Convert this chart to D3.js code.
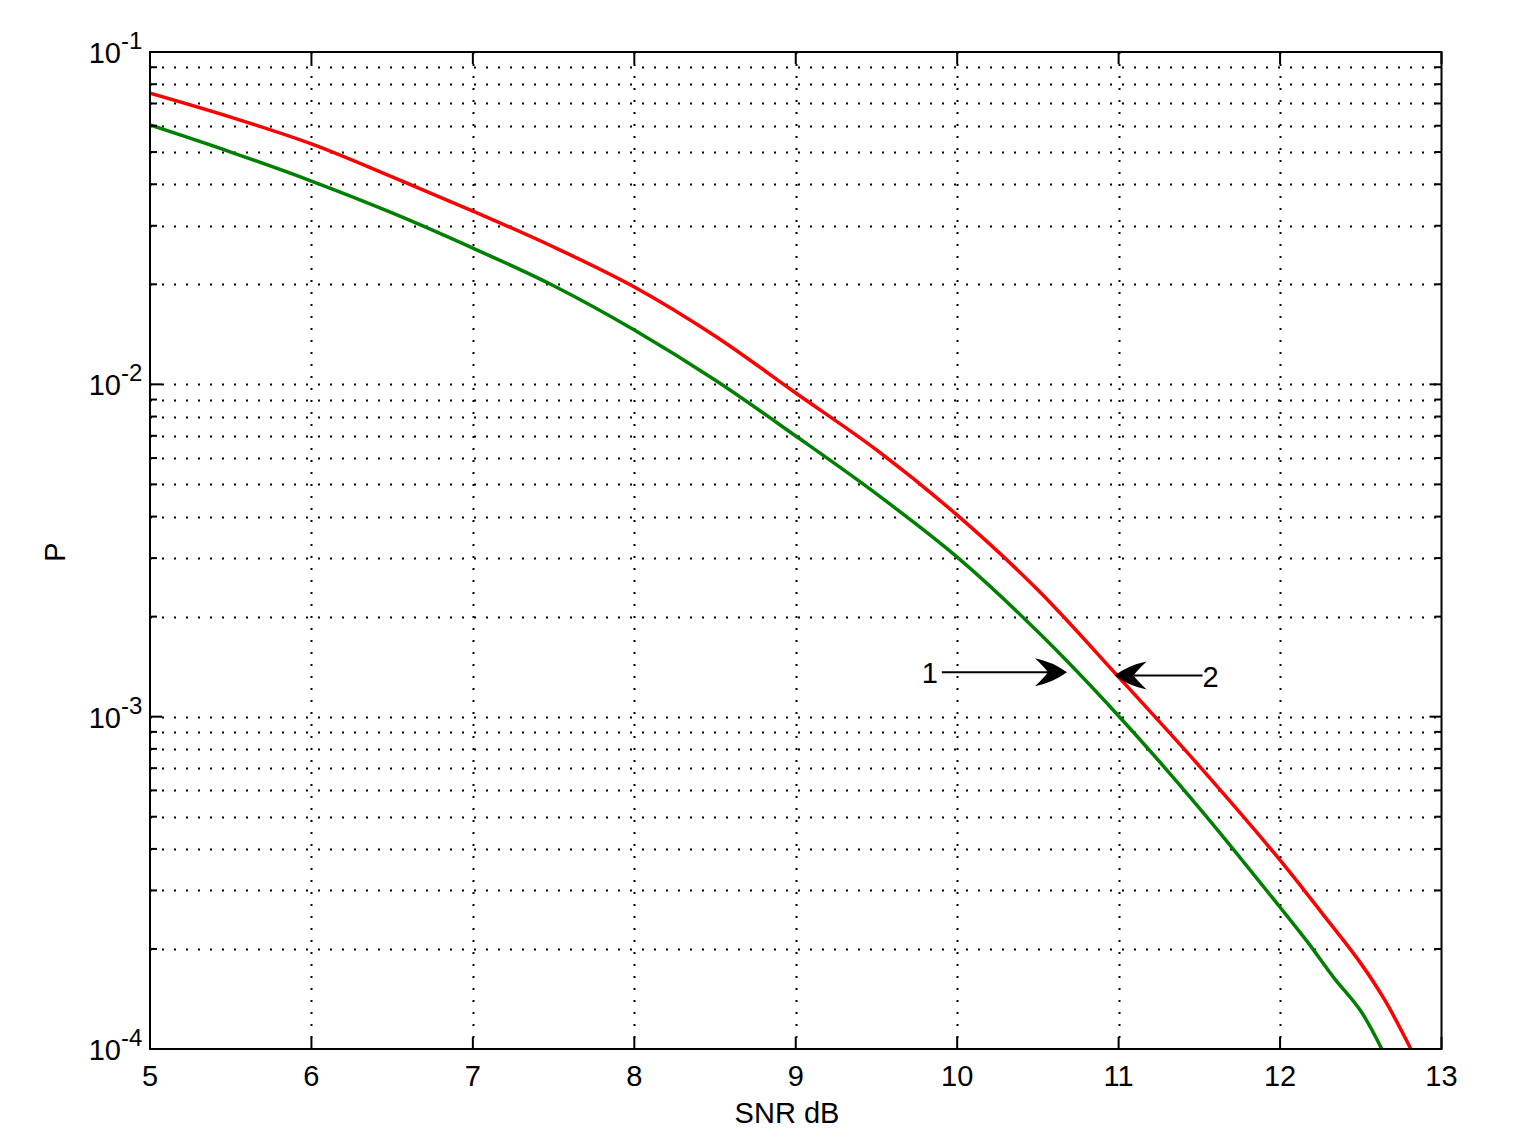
<!DOCTYPE html>
<html>
<head>
<meta charset="utf-8">
<script src="https://cdn.jsdelivr.net/npm/d3@7"></script>
<style>
  html, body { margin: 0; padding: 0; background: #fff; }
  svg { display: block; }
  text { font-family: "Liberation Sans", Arial, Helvetica, sans-serif; fill: #000; }
</style>
</head>
<body>
<svg id="chart" width="1524" height="1146"></svg>
<script>
// ---- data ----
const redX   = [5, 5.5, 6, 6.5, 7, 7.5, 8, 8.5, 9, 9.5, 10, 10.5, 11, 11.5, 12, 12.25, 12.5, 12.65, 12.81];
const redP   = [0.0752, 0.0637, 0.0529, 0.0421, 0.0332, 0.0259, 0.01963, 0.01398, 0.00942, 0.00635, 0.00404, 0.002405, 0.001316, 0.000710, 0.000370, 0.000260, 0.000181, 0.000140, 0.0001];
const greenX = [5, 5.5, 6, 6.5, 7, 7.5, 8, 8.5, 9, 9.5, 10, 10.5, 11, 11.5, 12, 12.17, 12.33, 12.5, 12.63];
const greenP = [0.0603, 0.0500, 0.0409, 0.0328, 0.0257, 0.0198, 0.01457, 0.0103, 0.00699, 0.00468, 0.00302, 0.00180, 0.001005, 0.000531, 0.000267, 0.000210, 0.0001646, 0.0001301, 0.0001];
const xTicks = [5, 6, 7, 8, 9, 10, 11, 12, 13];
const yDecades = [-4, -3, -2, -1];
const annotLabels = ["1", "2"];
const annotTailX = [9.905, 11.52];
const annotTipX  = [10.68, 10.975];
const annotY     = [0.00136, 0.00133];
const annotLabelX = [9.83, 11.57];

// ---- layout ----
const L = 150, R = 1441.5, T = 52, B = 1049;
const svg = d3.select("#chart");
svg.append("rect").attr("width", 1524).attr("height", 1146).attr("fill", "#fff");

const x = d3.scaleLinear().domain([5, 13]).range([L, R]);
const y = d3.scaleLog().domain([1e-4, 1e-1]).range([B, T]);

// minor log values
const minorVals = [];
for (let e = -4; e < -1; e++) for (let m = 2; m <= 9; m++) minorVals.push(m * Math.pow(10, e));
const majorVals = yDecades.map(e => Math.pow(10, e));

// ---- grid (dotted) ----
const grid = svg.append("g").attr("stroke", "#000").attr("stroke-width", 2).attr("stroke-dasharray", "2,10");
grid.selectAll("line.vx").data(xTicks.slice(1, -1)).enter().append("line")
  .attr("x1", d => Math.round(x(d)) + 0.5).attr("x2", d => Math.round(x(d)) + 0.5)
  .attr("y1", T).attr("y2", B);
grid.selectAll("line.hy").data(minorVals.concat(majorVals.slice(1, -1))).enter().append("line")
  .attr("x1", L).attr("x2", R)
  .attr("y1", d => Math.round(y(d)) + 0.5).attr("y2", d => Math.round(y(d)) + 0.5);

// ---- curves ----
const line = d3.line().x(d => x(d[0])).y(d => y(d[1])).curve(d3.curveCatmullRom.alpha(0.5));
svg.append("clipPath").attr("id", "clip").append("rect")
  .attr("x", L).attr("y", T).attr("width", R - L).attr("height", B - T);
svg.append("path").datum(greenX.map((v, i) => [v, greenP[i]]))
  .attr("d", line).attr("fill", "none").attr("stroke", "#008000").attr("stroke-width", 3.5)
  .attr("clip-path", "url(#clip)");
svg.append("path").datum(redX.map((v, i) => [v, redP[i]]))
  .attr("d", line).attr("fill", "none").attr("stroke", "#ff0000").attr("stroke-width", 3.5)
  .attr("clip-path", "url(#clip)");

// ---- axes box & ticks ----
const ax = svg.append("g").attr("stroke", "#000").attr("stroke-width", 2);
ax.append("rect").attr("x", L).attr("y", T).attr("width", R - L).attr("height", B - T).attr("fill", "none");
const majLen = 12, minLen = 7;
xTicks.forEach(t => {
  const px = x(t);
  ax.append("line").attr("x1", px).attr("x2", px).attr("y1", B).attr("y2", B - majLen);
  ax.append("line").attr("x1", px).attr("x2", px).attr("y1", T).attr("y2", T + majLen);
});
majorVals.forEach(v => {
  const py = y(v);
  ax.append("line").attr("x1", L).attr("x2", L + majLen).attr("y1", py).attr("y2", py);
  ax.append("line").attr("x1", R).attr("x2", R - majLen).attr("y1", py).attr("y2", py);
});
minorVals.forEach(v => {
  const py = y(v);
  ax.append("line").attr("x1", L).attr("x2", L + minLen).attr("y1", py).attr("y2", py);
  ax.append("line").attr("x1", R).attr("x2", R - minLen).attr("y1", py).attr("y2", py);
});

// ---- tick labels ----
svg.selectAll("text.xt").data(xTicks).enter().append("text")
  .attr("x", d => x(d)).attr("y", B + 37)
  .attr("text-anchor", "middle").attr("font-size", 29).text(d => d);

yDecades.forEach(e => {
  const py = y(Math.pow(10, e));
  svg.append("text").attr("x", 121).attr("y", py + 11).attr("text-anchor", "end")
    .attr("font-size", 29).text("10");
  svg.append("text").attr("x", 121).attr("y", py - 3).attr("text-anchor", "start")
    .attr("font-size", 24).text(String(e));
});

// ---- axis titles ----
svg.append("text").attr("x", 787).attr("y", 1123).attr("text-anchor", "middle")
  .attr("font-size", 29).text("SNR dB");
svg.append("text").attr("transform", "translate(65,552) rotate(-90)")
  .attr("text-anchor", "middle").attr("font-size", 29).text("P");

// ---- annotations ----
annotLabels.forEach((lab, i) => {
  const x0 = x(annotTailX[i]), x1 = x(annotTipX[i]), py = y(annotY[i]);
  const dir = x1 > x0 ? 1 : -1;
  const headL = 32, headW = 14, notch = 19;
  svg.append("line").attr("x1", x0).attr("x2", x1 - dir * notch).attr("y1", py).attr("y2", py)
    .attr("stroke", "#000").attr("stroke-width", 2);
  const p = (a, b) => (x1 - dir * a) + "," + (py + b);
  const d = "M" + p(0, 0) +
    "Q" + p(headL * 0.45, -headW * 0.75) + " " + p(headL, -headW) +
    "Q" + p(headL * 0.7, -headW * 0.35) + " " + p(notch, 0) +
    "Q" + p(headL * 0.7, headW * 0.35) + " " + p(headL, headW) +
    "Q" + p(headL * 0.45, headW * 0.75) + " " + p(0, 0) + "Z";
  svg.append("path").attr("d", d).attr("fill", "#000");
  svg.append("text").attr("x", x(annotLabelX[i])).attr("y", py + 11)
    .attr("text-anchor", "middle").attr("font-size", 29).text(lab);
});
</script>
</body>
</html>
